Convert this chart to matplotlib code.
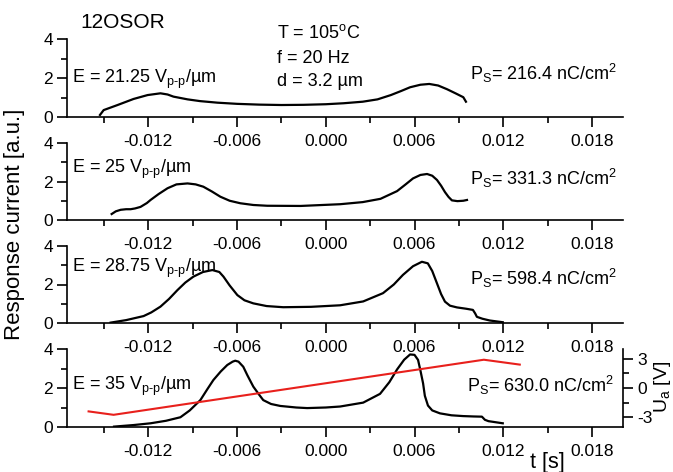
import matplotlib
matplotlib.use('Agg')
import matplotlib.pyplot as plt
from matplotlib.ticker import MultipleLocator, FormatStrFormatter

plt.rcParams['font.family'] = ['Liberation Sans', 'DejaVu Sans']
plt.rcParams['mathtext.fontset'] = 'custom'
plt.rcParams['mathtext.rm'] = 'Liberation Sans'
plt.rcParams['mathtext.it'] = 'Liberation Sans:italic'
plt.rcParams['axes.unicode_minus'] = False

# response current curves, t in s, current in a.u.
t1 = [-0.01527, -0.01502, -0.01408, -0.0130, -0.01205, -0.01118, -0.0107, -0.0103,
      -0.00935, -0.0085, -0.00733, -0.0060, -0.0045, -0.0030, -0.0015, 0.0000,
      0.0012, 0.0025, 0.0035, 0.0044, 0.0051, 0.0057, 0.0064, 0.0070,
      0.0076, 0.0082, 0.0088, 0.0093, 0.00948]
i1 = [0.12, 0.37, 0.63, 0.94, 1.14, 1.23, 1.17, 1.06,
      0.92, 0.83, 0.75, 0.69, 0.65, 0.63, 0.64, 0.67,
      0.72, 0.80, 0.92, 1.14, 1.35, 1.54, 1.67, 1.71,
      1.63, 1.44, 1.22, 1.03, 0.80]

t2 = [-0.01448, -0.0142, -0.01387, -0.0135, -0.0132, -0.0129, -0.01253, -0.0121,
      -0.01185, -0.0113, -0.0107, -0.0101, -0.00935, -0.0088, -0.00828, -0.0077,
      -0.00713, -0.0065, -0.00578, -0.0049, -0.00396, -0.0017, 0.00097, 0.0025,
      0.0037, 0.00482, 0.0054, 0.0059, 0.0064, 0.00685, 0.0072, 0.00752,
      0.0078, 0.00806, 0.0083, 0.00853, 0.0089, 0.0093, 0.00955]
i2 = [0.31, 0.45, 0.53, 0.56, 0.56, 0.60, 0.68, 0.88,
      1.04, 1.35, 1.65, 1.85, 1.90, 1.85, 1.73, 1.48,
      1.21, 1.00, 0.87, 0.78, 0.74, 0.73, 0.82, 0.93,
      1.10, 1.50, 1.85, 2.16, 2.34, 2.39, 2.30, 2.08,
      1.78, 1.45, 1.20, 1.02, 0.98, 1.00, 1.04]

t3 = [-0.01455, -0.0135, -0.01232, -0.0118, -0.01118, -0.0106, -0.01003, -0.0095,
      -0.00895, -0.0083, -0.00767, -0.0072, -0.00692, -0.0065, -0.00598, -0.0055,
      -0.0049, -0.0040, -0.00288, -0.0010, 0.00097, 0.00253, 0.00387, 0.0046,
      0.00522, 0.0059, 0.0065, 0.0069, 0.0072, 0.00752, 0.0078, 0.00806,
      0.0084, 0.00887, 0.0095, 0.00995, 0.0101, 0.01022, 0.0106, 0.01109, 0.01197]
i3 = [0.02, 0.15, 0.36, 0.55, 0.85, 1.25, 1.71, 2.10,
      2.41, 2.65, 2.75, 2.65, 2.41, 1.95, 1.45, 1.18,
      1.02, 0.88, 0.82, 0.84, 0.92, 1.12, 1.55, 2.00,
      2.50, 2.95, 3.18, 3.10, 2.70, 2.06, 1.50, 1.11,
      0.90, 0.81, 0.74, 0.68, 0.50, 0.32, 0.22, 0.13, 0.04]

t4 = [-0.01432, -0.0130, -0.01185, -0.0108, -0.00983, -0.0092, -0.00848, -0.0080,
      -0.0076, -0.0071, -0.00666, -0.0063, -0.00612, -0.0059, -0.00558, -0.0053,
      -0.0049, -0.0045, -0.00423, -0.0037, -0.00308, -0.0020, -0.00126, 0.0000,
      0.00097, 0.00253, 0.00367, 0.0043, 0.00482, 0.0053, 0.0057, 0.0060,
      0.00624, 0.0064, 0.00658, 0.0067, 0.00691, 0.0072, 0.00772, 0.0085,
      0.00928, 0.0100, 0.01056, 0.01076, 0.0110, 0.01197]
i4 = [0.02, 0.10, 0.19, 0.32, 0.50, 0.85, 1.38, 1.95,
      2.41, 2.85, 3.18, 3.35, 3.40, 3.35, 3.09, 2.65,
      2.07, 1.65, 1.38, 1.18, 1.08, 1.00, 0.97, 1.00,
      1.05, 1.25, 1.70, 2.30, 2.95, 3.45, 3.72, 3.70,
      3.44, 2.90, 2.24, 1.60, 1.10, 0.85, 0.70, 0.60,
      0.56, 0.54, 0.53, 0.37, 0.30, 0.19]

# applied voltage (bottom panel, right axis)
t_u = [-0.01604, -0.01435, 0.01069, 0.01312]
u_v = [-2.4, -2.75, 2.9, 2.4]

fields = ['21.25', '25', '28.75', '35']
ps_vals = ['216.4', '331.3', '598.4', '630.0']
e_base = [1.74, 2.44, 2.65, 1.90]
ps_base = [1.91, 1.82, 1.97, 1.79]

curves = [(t1, i1), (t2, i2), (t3, i3), (t4, i4)]

W, H = 673, 472
fig = plt.figure(figsize=(W / 100, H / 100), dpi=100)

left = 67 / W
width = (623 - 67) / W
# panel tops / bottoms in pixels
tops = [39.3, 143, 246, 349]
bots = [117.3, 220, 323, 427]

lw = 1.2
axes = []
for k in range(4):
    ax = fig.add_axes([left, 1 - bots[k] / H, width, (bots[k] - tops[k]) / H])
    t, i = curves[k]
    ax.plot(t, i, color='black', lw=1.6, solid_joinstyle='round')
    ax.set_xlim(-0.0175, 0.0201)
    ax.set_ylim(0, 4)
    ax.xaxis.set_major_locator(MultipleLocator(0.006))
    ax.xaxis.set_minor_locator(MultipleLocator(0.003))
    ax.xaxis.set_major_formatter(FormatStrFormatter('%.3f'))
    ax.yaxis.set_major_locator(MultipleLocator(2))
    ax.yaxis.set_minor_locator(MultipleLocator(1))
    for s in ['top', 'right']:
        ax.spines[s].set_visible(False)
    for s in ['left', 'bottom']:
        ax.spines[s].set_linewidth(lw)
    ax.tick_params(which='major', direction='out', length=7, width=lw, labelsize=12.5, pad=5)
    ax.tick_params(which='minor', direction='out', length=4, width=lw)
    ax.tick_params(axis='y', which='major', pad=3)
    ax.patch.set_alpha(0)

    ax.text(0.009, e_base[k], 'E = ' + fields[k] + ' V$_{\\rm p\u2010p}$/\u00b5m',
            transform=ax.get_yaxis_transform(), fontsize=13, va='baseline', ha='left')
    ax.text(0.725 if k < 3 else 0.719, ps_base[k],
            'P$_{\\rm S}$= ' + ps_vals[k] + ' nC/cm$^{\\rm 2}$',
            transform=ax.get_yaxis_transform(), fontsize=13, va='baseline', ha='left')
    axes.append(ax)

# voltage on twin axis of the last panel
ax2 = axes[3].twinx()
ax2.plot(t_u, u_v, color='#e8201c', lw=1.5)
ax2.set_xlim(-0.0175, 0.0201)
ax2.set_ylim(-4, 4)
ax2.set_yticks([-3, 0, 3])
ax2.yaxis.set_minor_locator(MultipleLocator(1.5))
for s in ['top', 'left', 'bottom']:
    ax2.spines[s].set_visible(False)
ax2.spines['right'].set_linewidth(lw)
ax2.tick_params(which='major', direction='out', length=7, width=lw, labelsize=12.5, pad=3)
ax2.tick_params(which='minor', direction='out', length=4, width=lw)

fig.text(80 / W, 1 - 28 / H, '12OSOR', fontsize=15, va='baseline', ha='left')
fig.text(277 / W, 1 - 38 / H, 'T = 105$^{\\rm o}$C', fontsize=13, va='baseline', ha='left')
fig.text(277 / W, 1 - 63 / H, 'f = 20 Hz', fontsize=13, va='baseline', ha='left')
fig.text(277 / W, 1 - 86 / H, 'd = 3.2 \u00b5m', fontsize=13, va='baseline', ha='left')

fig.text(15 / W, 1 - 224 / H, 'Response current [a.u.]', fontsize=16,
         rotation=90, ha='center', va='center')
fig.text(530 / W, 1 - 452 / H, 't [s]', fontsize=15.5, ha='left', va='top')
fig.text(652 / W, 1 - 387 / H, 'U$_{\\rm a}$ [V]', fontsize=14,
         rotation=90, ha='left', va='center')

fig.savefig('out.png', dpi=100)
